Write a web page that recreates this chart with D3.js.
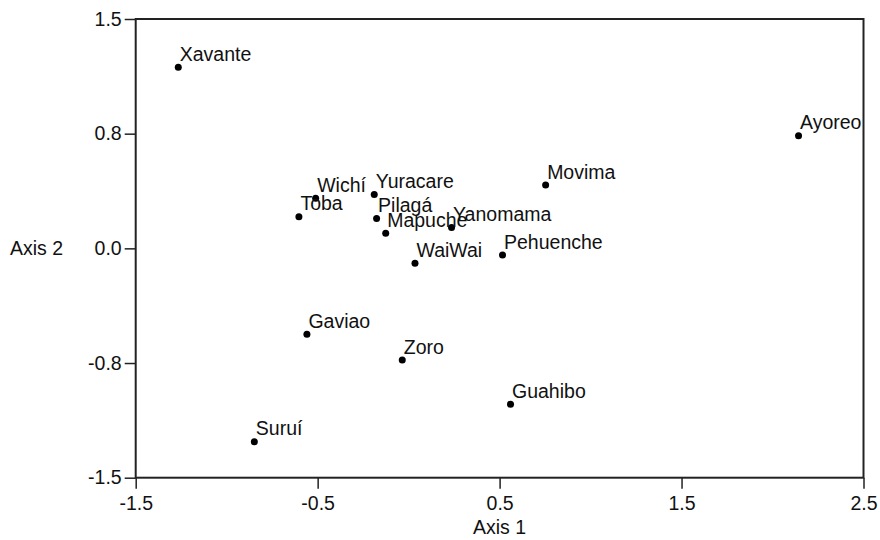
<!DOCTYPE html>
<html>
<head>
<meta charset="utf-8">
<script src="https://cdn.jsdelivr.net/npm/d3@7"></script>
<style>
  html, body { margin: 0; padding: 0; background: #fff; }
  svg text { font-family: "Liberation Sans", Arial, sans-serif; fill: #111; }
</style>
</head>
<body>
<svg id="chart" width="880" height="540"></svg>
<script>
// Ordination scores of the populations on the first two axes
const populations = ["Xavante", "Ayoreo", "Movima", "Wichí", "Yuracare", "Toba", "Pilagá",
  "Mapuche", "Yanomama", "Pehuenche", "WaiWai", "Gaviao", "Zoro", "Guahibo", "Suruí"];
const axis1Scores = [-1.266, 2.143, 0.753, -0.511, -0.189, -0.603, -0.176,
  -0.126, 0.236, 0.516, 0.035, -0.559, -0.035, 0.560, -0.848];
const axis2Scores = [1.184, 0.736, 0.414, 0.327, 0.353, 0.207, 0.196,
  0.098, 0.137, -0.044, -0.098, -0.562, -0.731, -1.020, -1.265];

// Axis ticks and the labels printed beside them
const xTicks = [-1.5, -0.5, 0.5, 1.5, 2.5];
const xTickLabels = ["-1.5", "-0.5", "0.5", "1.5", "2.5"];
const yTicks = [-1.5, -0.75, 0, 0.75, 1.5];
const yTickLabels = ["-1.5", "-0.8", "0.0", "0.8", "1.5"];

const W = 880, H = 540;
const margin = { top: 19, right: 16.5, bottom: 62.3, left: 135.7 };
const fontSize = "19.5px";

const svg = d3.select("#chart");
const x = d3.scaleLinear().domain([-1.5, 2.5]).range([margin.left, W - margin.right]);
const y = d3.scaleLinear().domain([-1.5, 1.5]).range([H - margin.bottom, margin.top]);

const points = populations.map((name, i) => ({ name, a1: axis1Scores[i], a2: axis2Scores[i] }));

// Axes
const xAxis = svg.append("g")
  .attr("transform", `translate(0,${y(-1.5)})`)
  .call(d3.axisBottom(x).tickValues(xTicks)
    .tickFormat((d, i) => xTickLabels[i]).tickSize(11).tickSizeOuter(0).tickPadding(7));
const yAxis = svg.append("g")
  .attr("transform", `translate(${x(-1.5)},0)`)
  .call(d3.axisLeft(y).tickValues(yTicks)
    .tickFormat((d, i) => yTickLabels[i]).tickSize(11).tickSizeOuter(0).tickPadding(3));

[xAxis, yAxis].forEach(g => {
  g.select(".domain").remove();
  g.selectAll(".tick line").attr("stroke", "#222").attr("stroke-width", 1.5);
  g.selectAll(".tick text").attr("font-size", fontSize).attr("fill", "#111")
    .attr("font-family", "'Liberation Sans', Arial, sans-serif");
});

// Axis titles
svg.append("text")
  .attr("x", (x.range()[0] + x.range()[1]) / 2)
  .attr("y", 534)
  .attr("text-anchor", "middle")
  .attr("font-size", fontSize)
  .text("Axis 1");
svg.append("text")
  .attr("x", 10)
  .attr("y", y(0))
  .attr("dy", "0.35em")
  .attr("font-size", fontSize)
  .text("Axis 2");

// Point markers and their names
const pts = svg.append("g");
pts.selectAll("circle")
  .data(points)
  .join("circle")
  .attr("cx", d => x(d.a1))
  .attr("cy", d => y(d.a2))
  .attr("r", 3.5)
  .attr("fill", "#000");
pts.selectAll("text")
  .data(points)
  .join("text")
  .attr("x", d => x(d.a1) + 1.5)
  .attr("y", d => y(d.a2) - 6.5)
  .attr("font-size", fontSize)
  .text(d => d.name);

// Plot frame
svg.append("rect")
  .attr("x", x(-1.5))
  .attr("y", y(1.5))
  .attr("width", x(2.5) - x(-1.5))
  .attr("height", y(-1.5) - y(1.5))
  .attr("fill", "none")
  .attr("stroke", "#222")
  .attr("stroke-width", 2);
</script>
</body>
</html>
